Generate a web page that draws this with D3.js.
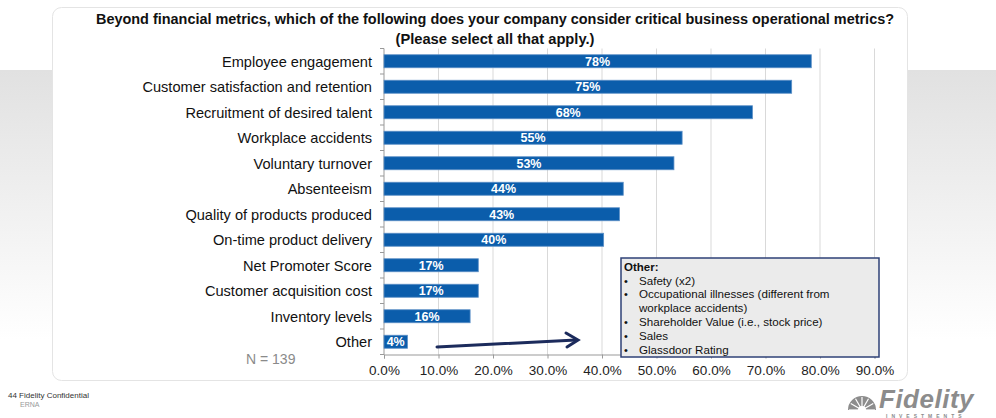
<!DOCTYPE html>
<html>
<head>
<meta charset="utf-8">
<script src="https://d3js.org/d3.v7.min.js"></script>
<style>
    body { margin: 0; background: #fff; }
    svg { display: block; font-family: "Liberation Sans", Arial, sans-serif; }
</style>
</head>
<body>
<svg id="chart" width="996" height="418"></svg>
<script>
    // survey data (N = 139)
    var categories = ["Employee engagement", "Customer satisfaction and retention", "Recruitment of desired talent",
        "Workplace accidents", "Voluntary turnover", "Absenteeism", "Quality of products produced",
        "On-time product delivery", "Net Promoter Score", "Customer acquisition cost", "Inventory levels", "Other"];
    var values = [78.4, 74.8, 67.6, 54.7, 53.2, 43.9, 43.2, 40.3, 17.3, 17.3, 15.8, 4.3];
    var valueLabels = ["78%", "75%", "68%", "55%", "53%", "44%", "43%", "40%", "17%", "17%", "16%", "4%"];
    var xTicks = [0, 10, 20, 30, 40, 50, 60, 70, 80, 90];
    var otherItems = ["Safety (x2)", "Occupational illnesses (different from", "workplace accidents)",
        "Shareholder Value (i.e., stock price)", "Sales", "Glassdoor Rating"];
    var otherBullets = [true, true, false, true, true, true];

    var svg = d3.select("#chart");

    // page background: gray band fading to white
    var defs = svg.append("defs");
    var grad = defs.append("linearGradient").attr("id", "band")
        .attr("x1", 0).attr("y1", 0).attr("x2", 0).attr("y2", 1);
    grad.append("stop").attr("offset", "0%").attr("stop-color", "#e1e1e1");
    grad.append("stop").attr("offset", "100%").attr("stop-color", "#ffffff");
    svg.append("rect").attr("x", 0).attr("y", 70).attr("width", 996).attr("height", 270)
        .attr("fill", "url(#band)");

    // card
    svg.append("rect").attr("x", 52.5).attr("y", 7.5).attr("width", 855).attr("height", 373)
        .attr("rx", 9).attr("fill", "#fff").attr("stroke", "#e4e4e4");

    // title
    svg.append("text").attr("x", 495).attr("y", 24).attr("text-anchor", "middle")
        .attr("font-size", 14).attr("font-weight", "bold").attr("fill", "#111")
        .attr("textLength", 798).attr("lengthAdjust", "spacingAndGlyphs")
        .text("Beyond financial metrics, which of the following does your company consider critical business operational metrics?");
    svg.append("text").attr("x", 495).attr("y", 44).attr("text-anchor", "middle")
        .attr("font-size", 14).attr("font-weight", "bold").attr("fill", "#111")
        .attr("textLength", 199).attr("lengthAdjust", "spacingAndGlyphs")
        .text("(Please select all that apply.)");

    var margin = { left: 384, top: 48.5 };
    var x = d3.scaleLinear().domain([0, 90]).range([0, 490.5]);
    var y = d3.scaleBand().domain(categories).range([0, 306]).paddingInner(0.49).paddingOuter(0.245);
    var h = y.range()[1];

    var g = svg.append("g").attr("transform", `translate(${margin.left},${margin.top})`);

    // gridlines
    g.selectAll(".grid").data(xTicks.slice(1)).enter().append("line")
        .attr("x1", d => x(d)).attr("x2", d => x(d))
        .attr("y1", 0).attr("y2", h)
        .attr("stroke", "#d9d9d9").attr("stroke-width", 1);

    // category tick marks on the y axis
    var step = h / categories.length;
    g.selectAll(".ytick").data(d3.range(categories.length + 1)).enter().append("line")
        .attr("x1", -4).attr("x2", 0)
        .attr("y1", d => d * step).attr("y2", d => d * step)
        .attr("stroke", "#999");
    g.append("line").attr("x1", 0).attr("x2", 0).attr("y1", 0).attr("y2", h).attr("stroke", "#999");

    // x axis
    var xAxis = g.append("g").attr("transform", `translate(0,${h})`)
        .call(d3.axisBottom(x).tickValues(xTicks).tickFormat(d => d.toFixed(1) + "%").tickSize(4).tickPadding(7));
    xAxis.select(".domain").attr("stroke", "#999");
    xAxis.selectAll(".tick line").attr("stroke", "#999");
    xAxis.selectAll("text").attr("font-size", 13.5).attr("fill", "#222").attr("font-family", "Liberation Sans, Arial, sans-serif");

    // category labels
    g.selectAll(".cat").data(categories).enter().append("text")
        .attr("x", -12).attr("y", d => y(d) + y.bandwidth() / 2)
        .attr("dy", "0.36em").attr("text-anchor", "end")
        .attr("font-size", 14.6).attr("fill", "#111")
        .text(d => d);

    // bars
    g.selectAll(".bar").data(values).enter().append("rect")
        .attr("x", 0).attr("y", (d, i) => y(categories[i]))
        .attr("width", d => x(d)).attr("height", y.bandwidth())
        .attr("fill", "#0b5dab").attr("stroke", "#5b8fc6").attr("stroke-width", 0.8);

    g.selectAll(".val").data(values).enter().append("text")
        .attr("x", d => x(d) / 2).attr("y", (d, i) => y(categories[i]) + y.bandwidth() / 2)
        .attr("dy", "0.36em").attr("text-anchor", "middle")
        .attr("font-size", 12.5).attr("font-weight", "bold").attr("fill", "#fff")
        .text((d, i) => valueLabels[i]);

    // N label
    svg.append("text").attr("x", 246).attr("y", 364)
        .attr("font-size", 14).attr("fill", "#8a8a8a").text("N = 139");

    // arrow pointing to the "Other" box
    svg.append("path").attr("d", "M437,347 L576,340")
        .attr("stroke", "#1c2b5c").attr("stroke-width", 3).attr("fill", "none").attr("stroke-linecap", "round");
    svg.append("path").attr("d", "M566,333 L578,340 L567,347")
        .attr("stroke", "#1c2b5c").attr("stroke-width", 3).attr("fill", "none")
        .attr("stroke-linejoin", "miter").attr("stroke-linecap", "round");

    // "Other" box
    var box = svg.append("g").attr("transform", "translate(621,258)");
    box.append("rect").attr("width", 258).attr("height", 99)
        .attr("fill", "#ebebeb").attr("stroke", "#2f4277").attr("stroke-width", 1.5);
    box.append("text").attr("x", 3).attr("y", 12.5).attr("font-size", 11.5)
        .attr("font-weight", "bold").attr("fill", "#111").text("Other:");
    box.selectAll(".item").data(otherItems).enter().append("text")
        .attr("x", 18).attr("y", (d, i) => 26.5 + i * 13.8)
        .attr("font-size", 11.6).attr("fill", "#111").text(d => d);
    box.selectAll(".bullet").data(otherItems).enter().append("text")
        .attr("x", 3).attr("y", (d, i) => 26.5 + i * 13.8)
        .attr("font-size", 11).attr("fill", "#111").text((d, i) => otherBullets[i] ? "\u2022" : "");

    // footer
    svg.append("text").attr("x", 8).attr("y", 398).attr("font-size", 8).attr("fill", "#333")
        .text("44  Fidelity Confidential");
    svg.append("text").attr("x", 20).attr("y", 407).attr("font-size", 7).attr("fill", "#999")
        .text("ERNA");

    // logo
    var logo = svg.append("g").attr("fill", "#8c8c8c");
    logo.append("path").attr("d", "M848,410 A14,14 0 1 1 876,410 L866,410 A4,4 0 0 0 858,410 Z");
    logo.selectAll(".ray").data([0, 1, 2, 3, 4, 5, 6]).enter().append("line")
        .attr("x1", 862).attr("y1", 410)
        .attr("x2", d => 862 + 13 * Math.cos(Math.PI * (1 - d / 6)))
        .attr("y2", d => 410 - 13 * Math.sin(Math.PI * (1 - d / 6)))
        .attr("stroke", "#fff").attr("stroke-width", 1.2);
    logo.append("text").attr("x", 879).attr("y", 408).attr("font-size", 26).attr("font-weight", "bold")
        .attr("font-style", "italic").attr("letter-spacing", 0.5).text("Fidelity");
    logo.append("text").attr("x", 886).attr("y", 418).attr("font-size", 5).attr("font-weight", "bold")
        .attr("letter-spacing", 4).text("INVESTMENTS");
</script>
</body>
</html>
